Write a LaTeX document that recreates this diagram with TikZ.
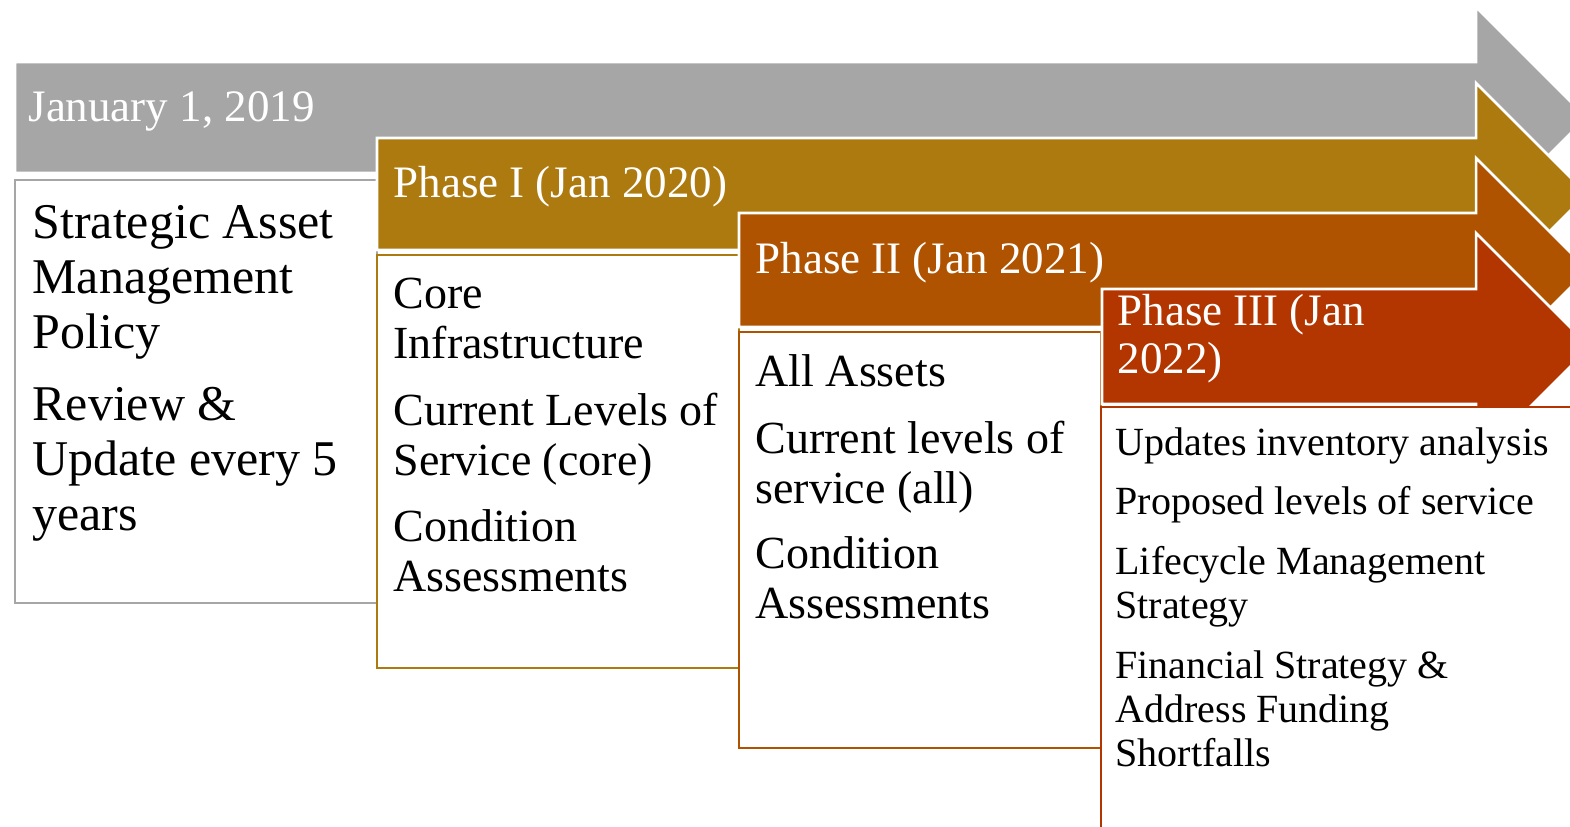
\documentclass[tikz,border=0pt]{standalone}
\usepackage{fontspec}
\setmainfont{Liberation Serif}

\definecolor{tlgray}{HTML}{A6A6A6}
\definecolor{tlgold}{HTML}{AD7A10}
\definecolor{tlorange}{HTML}{AF5300}
\definecolor{tlred}{HTML}{B33500}

\tikzset{every picture/.style={line width=0.75pt}}
\tikzset{
  banner/.style={draw=white, line width=1.9pt, line join=miter},
  phasebox/.style={line width=1.5pt, fill=white},
  bannertext/.style={text=white, anchor=base west, inner sep=0pt, align=left,
    font=\fontsize{33.75}{36}\selectfont},
  bigtext/.style={anchor=base west, inner sep=0pt, align=left,
    font=\fontsize{37.5}{41.25}\selectfont},
  midtext/.style={anchor=base west, inner sep=0pt, align=left,
    font=\fontsize{34.5}{37.5}\selectfont},
  smalltext/.style={anchor=base west, inner sep=0pt, align=left,
    font=\fontsize{30}{33}\selectfont},
}

\begin{document}
\begin{tikzpicture}[x=0.75pt,y=0.75pt,yscale=-1,xscale=1]
	\useasboundingbox (0,0) rectangle (1570,826);
	\clip (0,0) rectangle (1570,826);

	%Shape: Right Arrow [id:gray]
	\draw [banner, fill=tlgray] (15,62) -- (1476,62) -- (1476,7) -- (1586.5,117.5) -- (1476,228) -- (1476,173) -- (15,173) -- cycle ;
	%Shape: Rectangle [id:box1]
	\draw [phasebox, draw=tlgray] (15,180) rectangle (377,603) ;

	%Shape: Right Arrow [id:gold]
	\draw [banner, fill=tlgold] (377,138) -- (1476,138) -- (1476,83) -- (1587,194) -- (1476,305) -- (1476,250) -- (377,250) -- cycle ;
	%Shape: Rectangle [id:box2]
	\draw [phasebox, draw=tlgold] (377,255) rectangle (739,668) ;

	%Shape: Right Arrow [id:orange]
	\draw [banner, fill=tlorange] (739,213) -- (1476,213) -- (1476,158) -- (1588,270) -- (1476,382) -- (1476,327) -- (739,327) -- cycle ;
	%Shape: Rectangle [id:box3]
	\draw [phasebox, draw=tlorange] (739,332) rectangle (1101,748) ;

	%Shape: Right Arrow [id:red]
	\draw [banner, fill=tlred] (1102,289) -- (1476,289) -- (1476,233) -- (1590,347) -- (1476,461) -- (1476,404) -- (1102,404) -- cycle ;
	%Shape: Rectangle [id:box4]
	\draw [phasebox, draw=tlred] (1101,407) rectangle (1600,860) ;

	% Text Node (base = last line)
	\draw (28,121) node [bannertext] (jan19) {January 1, 2019};
	% Text Node
	\draw (393,197) node [bannertext] (ph1) {Phase I (Jan 2020)};
	% Text Node
	\draw (755,273) node [bannertext] (ph2) {Phase II (Jan 2021)};
	% Text Node
	\draw (1117,373) node [bannertext] (ph3) {Phase III (Jan\\2022)};

	% Text Node
	\draw (32,348) node [bigtext] (policy) {Strategic Asset\\Management\\Policy};
	% Text Node
	\draw (32,530) node [bigtext] (review) {Review \&\\Update every 5\\years};

	% Text Node
	\draw (393,358) node [midtext] (core) {Core\\Infrastructure};
	% Text Node
	\draw (393,475) node [midtext] (loscore) {Current Levels of\\Service (core)};
	% Text Node
	\draw (393,591) node [midtext] (cond1) {Condition\\Assessments};

	% Text Node
	\draw (755,386) node [midtext] (assets) {All Assets};
	% Text Node
	\draw (755,503) node [midtext] (losall) {Current levels of\\service (all)};
	% Text Node
	\draw (755,618) node [midtext] (cond2) {Condition\\Assessments};

	% Text Node
	\draw (1115,455) node [smalltext] (inv) {Updates inventory analysis};
	% Text Node
	\draw (1115,514) node [smalltext] (plos) {Proposed levels of service};
	% Text Node
	\draw (1115,618) node [smalltext] (life) {Lifecycle Management\\Strategy};
	% Text Node
	\draw (1115,766) node [smalltext] (fin) {Financial Strategy \&\\Address Funding\\Shortfalls};

\end{tikzpicture}
\end{document}
